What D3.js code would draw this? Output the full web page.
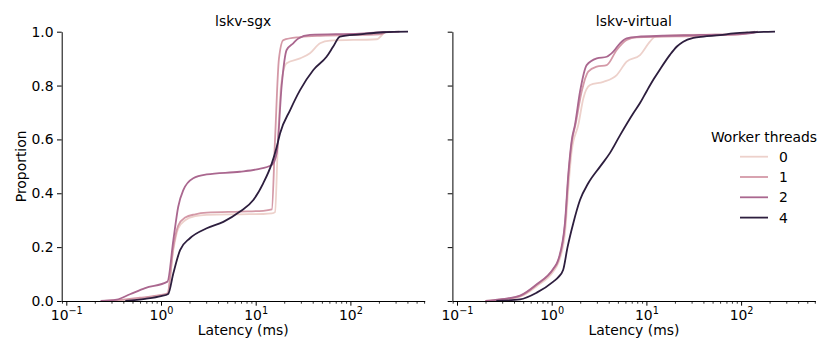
<!DOCTYPE html>
<html>
<head>
<meta charset="utf-8">
<script src="https://cdn.jsdelivr.net/npm/d3@7"></script>
<style>
  body { margin: 0; background: #fff; }
  svg text { font-family: "DejaVu Sans", sans-serif; }
</style>
</head>
<body>
<svg id="chart" width="830" height="356"></svg>
<script>
// [latency ms, cumulative proportion]
const panels = ['lskv-sgx', 'lskv-virtual'];
const threads = [0, 1, 2, 4];

const sgx0 = [[0.25,0],[0.4,0.004],[0.6,0.01],[0.9,0.018],[1.17,0.026],[1.35,0.19],[1.52,0.27],[1.8,0.3],[2.3,0.315],[3.04,0.32],[6.8,0.322],[12,0.323],[14.8,0.325],[16,0.33],[17.2,0.6],[18.5,0.8],[21.2,0.883],[29.4,0.901],[37.4,0.92],[47.8,0.957],[60.9,0.967],[190,0.972],[232,0.997],[262,1.0]];
const sgx1 = [[0.25,0],[0.4,0.005],[0.6,0.012],[0.9,0.02],[1.17,0.028],[1.35,0.2],[1.52,0.28],[1.8,0.31],[2.3,0.322],[3.04,0.328],[6.8,0.332],[12,0.335],[14.8,0.34],[16,0.6],[17.6,0.9],[19.6,0.969],[29.4,0.98],[48,0.985],[205,0.99],[238,1.0]];
const sgx2 = [[0.23,0],[0.34,0.005],[0.47,0.025],[0.68,0.048],[1.17,0.072],[1.35,0.226],[1.52,0.35],[1.72,0.412],[2.19,0.456],[3.04,0.47],[6.8,0.48],[10.3,0.489],[14.8,0.505],[16.7,0.55],[18.8,0.8],[21.2,0.932],[24.9,0.957],[28.2,0.975],[37.4,0.988],[126,0.993],[221,0.998],[330,1.0]];
const sgx4 = [[0.42,0],[0.68,0.008],[1.0,0.018],[1.19,0.026],[1.35,0.103],[1.59,0.189],[2.02,0.233],[3.04,0.27],[4.55,0.294],[6.83,0.332],[9.44,0.375],[12.0,0.437],[14.8,0.511],[16.7,0.573],[18.1,0.623],[23.1,0.709],[29.4,0.783],[40.6,0.858],[56.0,0.907],[65.9,0.945],[77.6,0.982],[126,0.99],[221,0.998],[406,1.0]];

const virt0 = [[0.2,0],[0.284,0.004],[0.463,0.016],[0.695,0.055],[1.04,0.11],[1.17,0.14],[1.38,0.25],[1.5,0.42],[1.63,0.56],[1.91,0.654],[2.16,0.753],[2.54,0.802],[3.51,0.814],[4.86,0.839],[6.19,0.889],[8.56,0.913],[10.9,0.963],[12.3,0.981],[24.3,0.988],[97,0.99],[118,1.0]];
const virt1 = [[0.2,0],[0.284,0.005],[0.463,0.018],[0.695,0.06],[1.04,0.118],[1.17,0.148],[1.38,0.28],[1.5,0.46],[1.63,0.59],[1.78,0.654],[2.07,0.777],[2.43,0.852],[2.99,0.87],[3.81,0.876],[4.86,0.932],[6.19,0.969],[7.9,0.979],[36.8,0.985],[97,0.99],[140,1.0]];
const virt2 = [[0.2,0],[0.284,0.006],[0.463,0.02],[0.695,0.062],[1.04,0.12],[1.17,0.152],[1.38,0.29],[1.5,0.474],[1.63,0.598],[1.76,0.654],[1.99,0.777],[2.34,0.876],[2.99,0.901],[3.81,0.907],[4.47,0.926],[5.26,0.957],[6.19,0.975],[7.9,0.981],[36.8,0.988],[97,0.991],[134,0.996],[150,1.0]];
const virt4 = [[0.26,0],[0.463,0.006],[0.695,0.031],[1.04,0.072],[1.17,0.088],[1.32,0.115],[1.47,0.2],[1.69,0.289],[1.99,0.375],[2.43,0.437],[3.24,0.499],[4.13,0.55],[5.26,0.615],[7.27,0.697],[8.56,0.735],[10.1,0.78],[12,0.825],[13.9,0.86],[17.8,0.915],[21,0.945],[24.5,0.963],[31.3,0.977],[40,0.982],[59.8,0.987],[82.8,0.994],[135,0.998],[228,1.0]];

const panelData = [[sgx0, sgx1, sgx2, sgx4], [virt0, virt1, virt2, virt4]];

const yTicks = [0, 0.2, 0.4, 0.6, 0.8, 1.0];
const xMajor = [0.1, 1, 10, 100];
const xDomain = [Math.pow(10, -1.0486), Math.pow(10, 2.7846)];

// seaborn default cubehelix (start 0, rot .4, hue .8, light .85, dark .15)
const cubehelix = (t) => {
  const x = 0.85 - 0.7 * t;
  const a = 0.8 * x * (1 - x) / 2;
  const phi = 2 * Math.PI * (0.4 * x);
  const c = Math.cos(phi), s = Math.sin(phi);
  const r = x + a * (-0.14861 * c + 1.78277 * s);
  const g = x + a * (-0.29227 * c - 0.90649 * s);
  const b = x + a * (1.97294 * c);
  const f = (v) => Math.round(Math.max(0, Math.min(1, v)) * 255);
  return d3.rgb(f(r), f(g), f(b)).toString();
};
const color = (w) => cubehelix(w / d3.max(threads));

const fs = 13.9;
const W = 363, H = 269.3;
const plotTop = 31.7;
const lefts = [61.7, 452.4];

const svg = d3.select('#chart');

const x = d3.scaleLog().domain(xDomain).range([0, W]);
const y = d3.scaleLinear().domain([0, 1]).range([H, 0]);

const line = d3.line()
  .x((d) => x(d[0]))
  .y((d) => y(d[1]))
  .curve(d3.curveMonotoneX);

const minorTicks = [];
for (let e = -2; e <= 2; e++) {
  for (let m = 2; m <= 9; m++) {
    const v = m * Math.pow(10, e);
    if (v >= xDomain[0] && v <= xDomain[1]) minorTicks.push(v);
  }
}

const supers = { '-1': '\u22121', '0': '0', '1': '1', '2': '2' };

panels.forEach((name, pi) => {
  const g = svg.append('g').attr('transform', `translate(${lefts[pi]},${plotTop})`);

  // curves
  panelData[pi].forEach((pts, si) => {
    g.append('path')
      .datum(pts)
      .attr('fill', 'none')
      .attr('stroke', color(threads[si]))
      .attr('stroke-width', 1.8)
      .attr('stroke-linejoin', 'round')
      .attr('d', line);
  });

  // x axis, minor ticks
  g.append('g')
    .attr('transform', `translate(0,${H})`)
    .call(d3.axisBottom(x).tickValues(minorTicks).tickSize(2.7).tickFormat(''))
    .call((a) => a.select('.domain').remove())
    .call((a) => a.selectAll('line').attr('stroke', '#000').attr('stroke-width', 0.8));

  // x axis, major ticks
  const xa = g.append('g')
    .attr('transform', `translate(0,${H})`)
    .call(d3.axisBottom(x).tickValues(xMajor).tickSize(4.7).tickSizeOuter(0).tickFormat(''));
  xa.select('.domain').attr('stroke', '#000').attr('stroke-width', 1);
  xa.selectAll('line').attr('stroke', '#000').attr('stroke-width', 1);
  xa.selectAll('.tick').each(function (d) {
    const t = d3.select(this).append('text')
      .attr('fill', '#000')
      .attr('y', 19)
      .attr('text-anchor', 'middle')
      .style('font-size', fs + 'px');
    const e = String(Math.round(Math.log10(d)));
    t.append('tspan').text('10');
    t.append('tspan').attr('dy', -6).style('font-size', (fs * 0.7) + 'px').text(supers[e]);
  });

  // y axis
  const ya = g.append('g')
    .call(d3.axisLeft(y).tickValues(yTicks).tickSize(4.7).tickSizeOuter(0).tickPadding(3.5)
      .tickFormat(pi === 0 ? d3.format('.1f') : ''));
  ya.select('.domain').attr('stroke', '#000').attr('stroke-width', 1);
  ya.selectAll('line').attr('stroke', '#000').attr('stroke-width', 1);
  ya.selectAll('text')
    .attr('fill', '#000')
    .style('font-size', fs + 'px');

  // title and x label
  g.append('text')
    .attr('x', W / 2)
    .attr('y', 26 - plotTop)
    .attr('text-anchor', 'middle')
    .style('font-size', fs + 'px')
    .text(name);

  g.append('text')
    .attr('x', W / 2)
    .attr('y', 335.5 - plotTop)
    .attr('text-anchor', 'middle')
    .style('font-size', fs + 'px')
    .text('Latency (ms)');

  if (pi === 0) {
    g.append('text')
      .attr('transform', `translate(${26 - lefts[0]},${H / 2}) rotate(-90)`)
      .attr('text-anchor', 'middle')
      .style('font-size', fs + 'px')
      .text('Proportion');
  }
});

// legend
const legend = svg.append('g');
legend.append('text')
  .attr('x', 764)
  .attr('y', 141.5)
  .attr('text-anchor', 'middle')
  .style('font-size', fs + 'px')
  .text('Worker threads');

const rowY = [156.7, 177, 197.3, 217.6];
threads.forEach((w, i) => {
  legend.append('line')
    .attr('x1', 740).attr('x2', 768)
    .attr('y1', rowY[i]).attr('y2', rowY[i])
    .attr('stroke', color(w))
    .attr('stroke-width', 1.8);
  legend.append('text')
    .attr('x', 779)
    .attr('y', rowY[i] + 5)
    .style('font-size', fs + 'px')
    .text(w);
});
</script>
</body>
</html>
